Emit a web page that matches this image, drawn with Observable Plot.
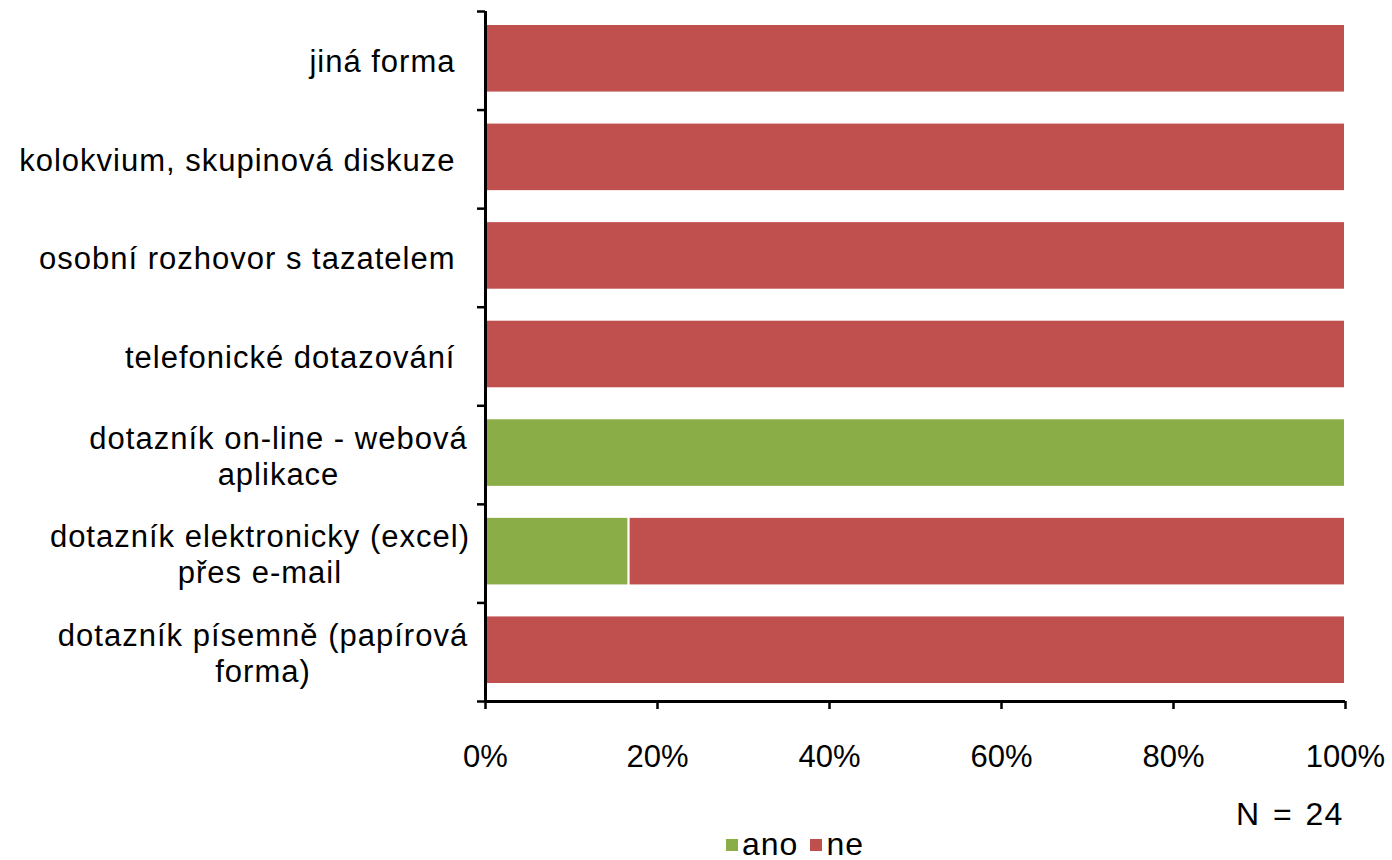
<!DOCTYPE html>
<html>
<head>
<meta charset="utf-8">
<script src="https://cdn.jsdelivr.net/npm/d3@7"></script>
<script src="https://cdn.jsdelivr.net/npm/@observablehq/plot@0.6"></script>
<style>
  html, body { margin: 0; padding: 0; background: #fff; }
  body { position: relative; width: 1392px; height: 860px; overflow: hidden; font-family: "Liberation Sans", Arial, sans-serif; color: #000; }
  #chart { position: absolute; left: 0; top: 0; }
  #note { position: absolute; left: 1236px; top: 796px; font-size: 32px; letter-spacing: 1px; word-spacing: 3px; }
  #legend { position: absolute; left: 726px; top: 826px; font-size: 32px; display: flex; align-items: center; letter-spacing: 1px; }
  #legend .sw { display: inline-block; width: 12px; height: 12px; margin-right: 4px; }
  #legend .item { display: flex; align-items: center; margin-right: 12px; }
</style>
</head>
<body>
<div id="chart"></div>
<div id="note">N = 24</div>
<div id="legend"></div>
<script>
// categories, top to bottom
const categories = [
  "jiná forma",
  "kolokvium, skupinová diskuze",
  "osobní rozhovor s tazatelem",
  "telefonické dotazování",
  "dotazník on-line - webová\naplikace",
  "dotazník elektronicky (excel)\npřes e-mail",
  "dotazník písemně (papírová\nforma)"
];
const seriesNames = ["ano", "ne"];
const seriesColors = ["#8BAD48", "#C0504D"];
// percentages
const ano = [0, 0, 0, 0, 100, 16.7, 0];
const ne  = [100, 100, 100, 100, 0, 83.3, 100];
const xTicks = [0, 20, 40, 60, 80, 100];

// stacked table built from the arrays
const table = [];
categories.forEach((c, i) => {
  let acc = 0;
  [ano, ne].forEach((arr, s) => {
    const v = arr[i];
    if (v > 0) table.push({cat: c, idx: i, series: seriesNames[s], x1: acc, x2: acc + v});
    acc += v;
  });
});
const labels = categories.map((c, i) => ({cat: c, y: i + 0.5}));
const bounds = d3.range(categories.length + 1);

const W = 1392, H = 780;
const chart = Plot.plot({
  width: W,
  height: H,
  marginTop: 11,
  marginBottom: H - 701,
  marginLeft: 485,
  marginRight: W - 1345,
  style: {fontFamily: "Liberation Sans, Arial, sans-serif", fontSize: "31px", color: "#000", background: "#fff"},
  x: {domain: [0, 100]},
  y: {domain: [0, categories.length], reverse: true, axis: null},
  color: {domain: seriesNames, range: seriesColors},
  marks: [
    Plot.rectX(table, {x1: "x1", x2: "x2", y1: "idx", y2: d => d.idx + 1, fill: "series", stroke: "white", strokeWidth: 2, insetTop: 13, insetBottom: 17}),
    Plot.axisX({ticks: xTicks, tickFormat: d => d + "%", tickSize: 8, tickPadding: 35, strokeWidth: 2.5, fontSize: 31, label: null}),
    Plot.axisY({ticks: bounds, tickFormat: () => "", tickSize: 8, strokeWidth: 2.5, label: null}),
    Plot.ruleY([categories.length], {stroke: "#000", strokeWidth: 3}),
    Plot.ruleX([0], {y1: 0, y2: categories.length, stroke: "#000", strokeWidth: 3}),
    Plot.text(labels, {x: 0, y: "y", text: "cat", textAnchor: "end", dx: -30, lineHeight: 1.16, fontSize: 31, className: "ylab"})
  ]
});
document.getElementById("chart").appendChild(chart);

// center multi-line labels within their block (right edge fixed)
chart.querySelectorAll(".ylab text").forEach(t => {
  const tsp = t.querySelectorAll("tspan");
  if (tsp.length > 1) {
    const w = t.getBBox().width;
    t.setAttribute("text-anchor", "middle");
    tsp.forEach(s => s.setAttribute("x", -w / 2));
  }
  t.setAttribute("letter-spacing", "1");
});

// legend
const lg = document.getElementById("legend");
seriesNames.forEach((n, i) => {
  const it = document.createElement("span");
  it.className = "item";
  it.innerHTML = `<span class="sw" style="background:${seriesColors[i]}"></span><span>${n}</span>`;
  lg.appendChild(it);
});
</script>
</body>
</html>
